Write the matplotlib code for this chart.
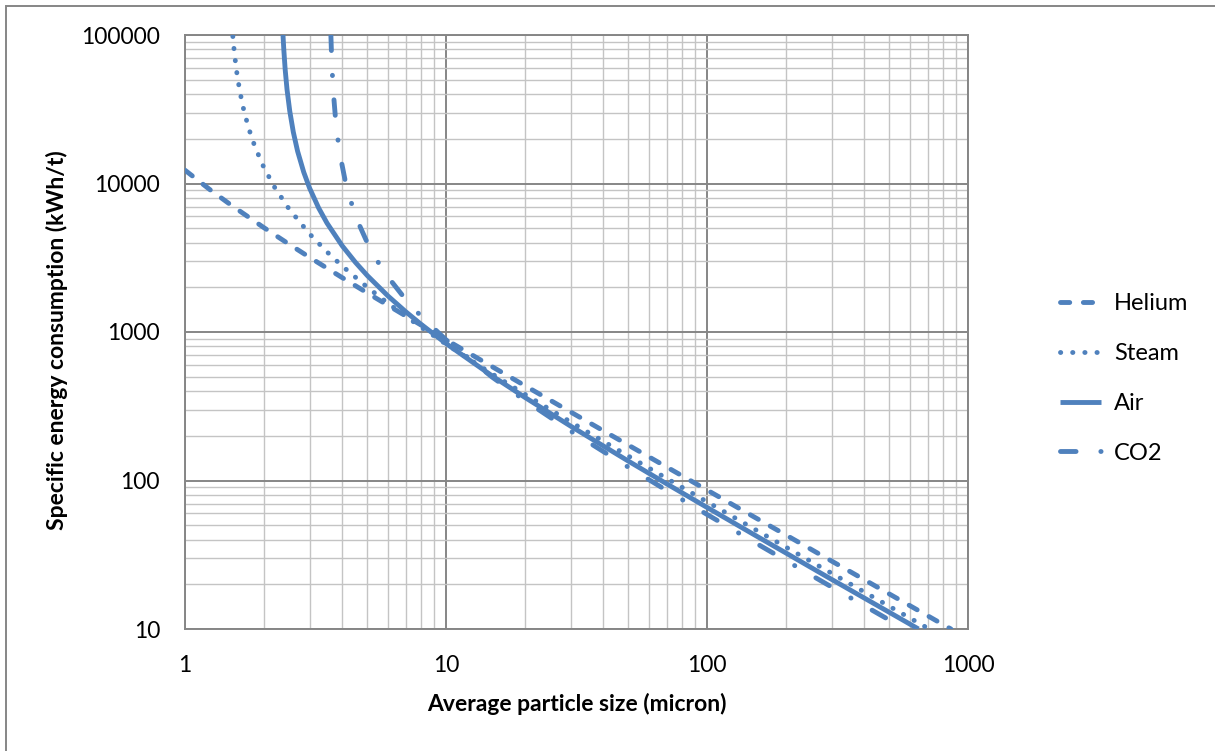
import matplotlib
matplotlib.use("Agg")
import matplotlib.pyplot as plt
from matplotlib.lines import Line2D
from matplotlib.patches import Rectangle
from matplotlib.ticker import LogLocator, FixedLocator, FixedFormatter, NullFormatter

# ---- data ----
helium_x = [1, 1.25, 1.5, 2, 2.5, 3, 4, 5, 7, 10, 15, 20, 30, 50, 70, 100, 150, 200, 300, 500, 860]
helium_y = [12290, 9053, 7167, 5059, 3909, 3185, 2324, 1830, 1284, 887, 585, 436.5, 289.6, 173, 123.4,
            86.3, 57.4, 43.1, 28.7, 17.2, 10.0]

steam_x = [1.525, 1.53, 1.55, 1.58, 1.62, 1.67, 1.75, 1.85, 2.0, 2.2, 2.5, 3.0, 3.5, 4, 5, 6, 7, 8, 10,
           15, 20, 30, 50, 70, 100, 150, 200, 300, 500, 710]
steam_y = [98000, 91500, 72700, 55600, 42300, 32600, 23800, 17840, 12950, 9485, 6770, 4580, 3463, 2783,
           1999, 1559, 1278, 1083, 829, 523, 382, 248, 146, 103.4, 71.9, 47.7, 35.7, 23.75, 14.2, 10.0]

air_x = [2.374, 2.39, 2.42, 2.46, 2.52, 2.6, 2.7, 2.85, 3.0, 3.25, 3.5, 4.0, 4.5, 5, 6, 7, 8, 10, 15,
         20, 30, 50, 70, 100, 150, 200, 300, 500, 646]
air_y = [100000, 80500, 58500, 42900, 30700, 22200, 16500, 11930, 9333, 6851, 5412, 3811, 2941, 2394,
         1745, 1373, 1132, 837, 507, 364, 232.6, 135, 95.1, 65.9, 43.6, 32.6, 21.6, 12.94, 10.0]

co2_x = [3.622, 3.64, 3.67, 3.71, 3.77, 3.85, 3.95, 4.1, 4.3, 4.6, 5, 5.5, 6, 7, 8, 10, 15, 20, 30, 50,
         70, 100, 150, 200, 300, 500, 574]
co2_y = [100000, 76000, 54300, 39300, 27800, 20000, 14800, 10650, 7755, 5507, 3972, 2946, 2341, 1659,
         1285, 886, 498, 347, 215.6, 122.8, 85.8, 59.1, 38.9, 29.0, 19.2, 11.48, 10.0]

series_names = ["Helium", "Steam", "Air", "CO2"]
x_ticks = [1, 10, 100, 1000]
x_tick_labels = ["1", "10", "100", "1000"]
y_ticks = [10, 100, 1000, 10000, 100000]
y_tick_labels = ["10", "100", "1000", "10000", "100000"]

# ---- style ----
FONT = "Lato"
plt.rcParams["font.family"] = [FONT, "DejaVu Sans"]
BLUE = "#4f81bd"
LW = 3.5
MAJOR = "#868686"
MINOR = "#c4c4c4"
FS = 16.5

W, H = 1215, 751
fig = plt.figure(figsize=(W / 100, H / 100), dpi=100)
ax = fig.add_axes([185 / W, 1 - 629 / H, (968 - 185) / W, (629 - 35) / H])

styles = {
    "Helium": dict(linestyle=(0, (1.9, 2.8)), dash_capstyle="round"),
    "Steam": dict(linestyle=(0, (0.05, 2.45)), dash_capstyle="round"),
    "Air": dict(linestyle="-", solid_capstyle="butt"),
    "CO2": dict(linestyle=(0, (3.2, 5.1, 0.05, 5.0)), dash_capstyle="round"),
}
data = {"Helium": (helium_x, helium_y), "Steam": (steam_x, steam_y),
        "Air": (air_x, air_y), "CO2": (co2_x, co2_y)}

for name in series_names:
    xs, ys = data[name]
    ax.plot(xs, ys, color=BLUE, lw=LW, label=name, zorder=3, **styles[name])

ax.set_xscale("log")
ax.set_yscale("log")
ax.set_xlim(1, 1000)
ax.set_ylim(10, 100000)

ax.xaxis.set_major_locator(FixedLocator(x_ticks))
ax.xaxis.set_major_formatter(FixedFormatter(x_tick_labels))
ax.yaxis.set_major_locator(FixedLocator(y_ticks))
ax.yaxis.set_major_formatter(FixedFormatter(y_tick_labels))
ax.xaxis.set_minor_locator(LogLocator(base=10, subs=range(2, 10), numticks=20))
ax.yaxis.set_minor_locator(LogLocator(base=10, subs=range(2, 10), numticks=20))
ax.xaxis.set_minor_formatter(NullFormatter())
ax.yaxis.set_minor_formatter(NullFormatter())

ax.grid(which="minor", color=MINOR, lw=1.0, zorder=1)
ax.grid(which="major", color=MAJOR, lw=1.4, zorder=2)
ax.set_axisbelow(True)
for s in ax.spines.values():
    s.set_color(MAJOR)
    s.set_linewidth(1.4)

ax.tick_params(which="both", length=0)
ax.tick_params(axis="x", pad=19, labelsize=FS, labelcolor="black")
ax.tick_params(axis="y", pad=18, labelsize=FS, labelcolor="black")

ax.set_xlabel("Average particle size (micron)", fontsize=FS, fontweight="bold")
ax.xaxis.set_label_coords(0.5, -0.108)
ax.set_ylabel("Specific energy consumption (kWh/t)", fontsize=FS, fontweight="bold")
ax.yaxis.set_label_coords(-0.149, 0.4865)

handles = [Line2D([0], [0], color=BLUE, lw=LW, **styles[n]) for n in series_names]
leg = fig.legend(handles, series_names, loc="center left",
                 bbox_to_anchor=(1060 / W, 1 - 378.5 / H), frameon=False,
                 fontsize=17, handlelength=1.75, handletextpad=0.55,
                 labelspacing=1.22, borderpad=0, borderaxespad=0)

# outer chart border (visible on top and left)
fig.patches.append(Rectangle((5.5 / W, -0.1), 1.2, 1 - 5.5 / H + 0.1,
                             transform=fig.transFigure, fill=False,
                             edgecolor=MAJOR, lw=1.4))

fig.savefig("out.png", dpi=100)
